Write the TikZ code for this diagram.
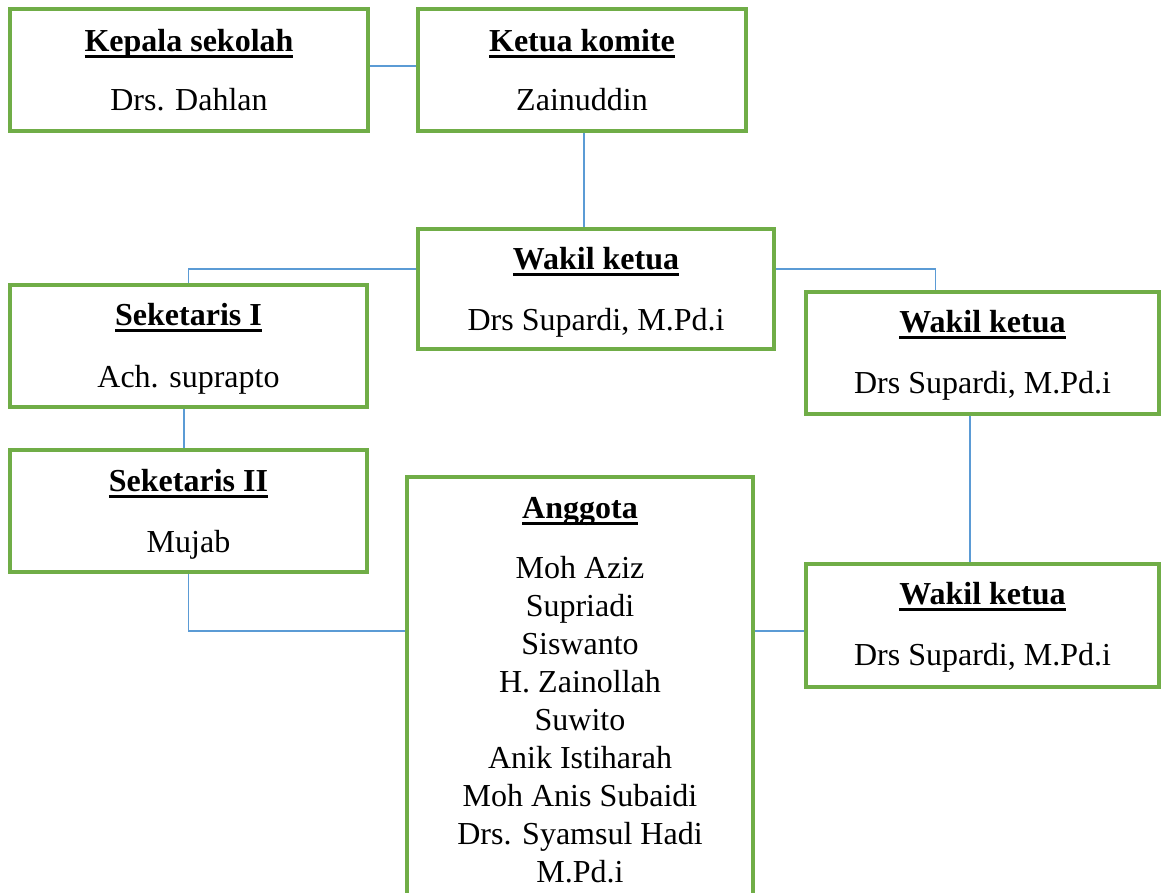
\documentclass[tikz,border=0pt]{standalone}
\usepackage{fontspec}
\setmainfont{Liberation Serif}
\definecolor{boxgreen}{HTML}{70AD47}
\definecolor{connblue}{HTML}{5B9BD5}
\newcommand\ulx[1]{\setbox0\hbox{#1}\rlap{\rule[-5pt]{\wd0}{1.8pt}}\box0}
\begin{document}
\begin{tikzpicture}[x=0.75pt,y=-0.75pt,
  every node/.style={font=\fontsize{24}{28.5}\selectfont},
  orgbox/.style={draw=boxgreen,line width=2.4pt,inner sep=0pt,fill=none},
  txt/.style={anchor=base,inner sep=0pt},
  conn/.style={draw=connblue,line width=0.8pt}]
\clip (0,0) rectangle (1162,892);
\fill[white] (0,0) rectangle (1162,892);
% boxes
\node[orgbox,minimum width=268.5pt,minimum height=91.5pt] (kepala) at (189,70) {};
\node[orgbox,minimum width=246pt,minimum height=91.5pt] (ketua) at (582,70) {};
\node[orgbox,minimum width=267pt,minimum height=90pt] (wakilC) at (596,289) {};
\node[orgbox,minimum width=267.75pt,minimum height=91.5pt] (sek1) at (188.5,346) {};
\node[orgbox,minimum width=264.75pt,minimum height=91.5pt] (wakilR) at (982.5,353) {};
\node[orgbox,minimum width=267.75pt,minimum height=91.5pt] (sek2) at (188.5,511) {};
\node[orgbox,minimum width=264.75pt,minimum height=92.25pt] (wakilL) at (982.5,625.5) {};
\node[orgbox,minimum width=259.5pt,minimum height=332.25pt] (anggota) at (580,698.5) {};
% texts
\node[txt] (kepalaT) at (189,51) {\ulx{\bfseries Kepala sekolah}};
\node[txt] (kepalaN) at (189,110) {Drs. Dahlan};
\node[txt] (ketuaT) at (582,51) {\ulx{\bfseries Ketua komite}};
\node[txt] (ketuaN) at (582,110) {Zainuddin};
\node[txt] (wakilCT) at (596,269) {\ulx{\bfseries Wakil ketua}};
\node[txt] (wakilCN) at (596,330) {Drs Supardi, M.Pd.i};
\node[txt] (sek1T) at (188.5,325) {\ulx{\bfseries Seketaris I}};
\node[txt] (sek1N) at (188.5,387) {Ach. suprapto};
\node[txt] (wakilRT) at (982.5,332) {\ulx{\bfseries Wakil ketua}};
\node[txt] (wakilRN) at (982.5,393) {Drs Supardi, M.Pd.i};
\node[txt] (sek2T) at (188.5,491) {\ulx{\bfseries Seketaris II}};
\node[txt] (sek2N) at (188.5,552) {Mujab};
\node[txt] (wakilLT) at (982.5,604) {\ulx{\bfseries Wakil ketua}};
\node[txt] (wakilLN) at (982.5,665) {Drs Supardi, M.Pd.i};
\node[txt] (anggotaT) at (580,518) {\ulx{\bfseries Anggota}};
\foreach \name [count=\i from 0] in {Moh Aziz,Supriadi,Siswanto,H. Zainollah,Suwito,Anik Istiharah,Moh Anis Subaidi,Drs. Syamsul Hadi,M.Pd.i}
  \node[txt] (m\i) at (580,578+38*\i) {\name};
% connectors
\coordinate (j) at (0,631);
\draw[conn] ([yshift=3pt]kepala.east) -- ([yshift=3pt]kepala.east -| ketua.west);
\draw[conn] ([xshift=1.5pt]ketua.south) -- ([xshift=1.5pt]ketua.south |- wakilC.north);
\draw[conn] ([yshift=15pt]wakilC.west) -| (sek1.north);
\draw[conn] ([yshift=15pt]wakilC.east) -| ([xshift=-35pt]wakilR.north);
\draw[conn] ([xshift=-9.4pt]wakilR.south) -- ([xshift=-9.4pt]wakilR.south |- wakilL.north);
\draw[conn] ([xshift=-3.4pt]sek1.south) -- ([xshift=-3.4pt]sek1.south |- sek2.north);
\draw[conn] (sek2.south) |- (anggota.west |- j);
\draw[conn] (anggota.east |- j) -- (wakilL.west |- j);
\end{tikzpicture}
\end{document}
